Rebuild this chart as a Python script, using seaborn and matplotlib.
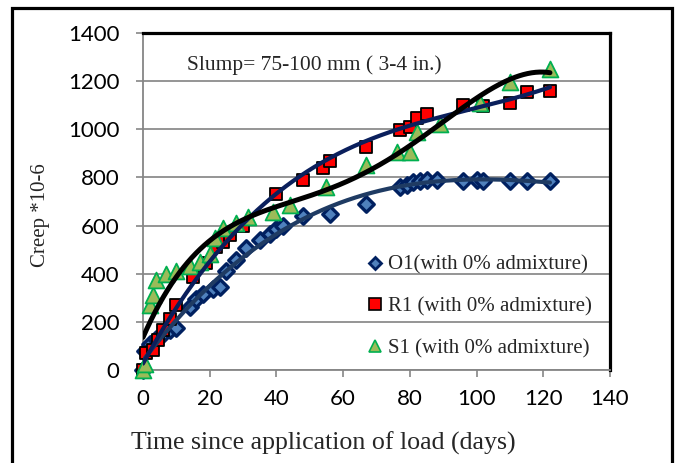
import numpy as np
import pandas as pd
import matplotlib
matplotlib.use("Agg")
import matplotlib.pyplot as plt
import seaborn as sns
from matplotlib.lines import Line2D
from matplotlib.patches import Rectangle

# ---------------- data ----------------
O1_days = [0, 0.5, 2, 4, 6, 8, 10, 14, 16, 18, 21, 23, 25, 28, 31, 35, 38, 40, 42, 48,
           56, 67, 77, 79, 81, 83, 85, 88, 96, 100, 102, 110, 115, 122]
O1_creep = [0, 80, 110, 130, 150, 165, 175, 260, 295, 315, 335, 345, 410, 455, 505, 540,
            565, 585, 600, 640, 650, 690, 760, 770, 780, 785, 790, 790, 785, 790, 785,
            785, 785, 785]

R1_days = [0, 1, 3, 4.5, 6, 8, 10, 15, 19, 22, 24, 26, 30, 40, 48, 54, 56, 67, 77, 80,
           82, 85, 96, 102, 110, 115, 122]
R1_creep = [0, 70, 85, 125, 165, 210, 270, 385, 445, 510, 530, 560, 600, 730, 790, 840,
            870, 925, 995, 1010, 1045, 1065, 1100, 1095, 1110, 1155, 1160]

S1_days = [0, 0.5, 2, 3, 4, 7, 10, 14, 17, 20, 21.5, 24, 28, 31.5, 39, 44, 55, 67, 76,
           80, 82, 89, 101, 110, 122]
S1_creep = [0, 25, 270, 310, 375, 400, 410, 430, 450, 480, 550, 590, 610, 635, 655, 685,
            760, 850, 905, 905, 990, 1020, 1110, 1195, 1250]

labels = ["O1(with 0% admixture)", "R1 (with 0% admixture)", "S1 (with 0% admixture)"]
x_ticks = list(range(0, 141, 20))
y_ticks = list(range(0, 1401, 200))
annotation = "Slump= 75-100 mm ( 3-4 in.)"
x_label = "Time since application of load (days)"
y_label = "Creep *10-6"

# ---------------- styling ----------------
sns.set_theme(style="white")
plt.rcParams["font.family"] = ["Liberation Serif", "DejaVu Serif"]

W, H = 678, 463
fig = plt.figure(figsize=(W / 100, H / 100), dpi=100)
ax = fig.add_axes([143 / W, 1 - 370 / H, (610 - 143) / W, (370 - 33) / H])

grey = "#868686"
o_fill, o_edge = "#4F81BD", "#002060"
r_fill, r_edge = "#FF0000", "#000000"
s_fill, s_edge = "#9BBB59", "#00B050"

# markers
sns.scatterplot(x=O1_days, y=O1_creep, marker="D", s=62, color=o_fill, edgecolor=o_edge,
                linewidth=2.4, ax=ax, zorder=3, clip_on=False, legend=False)
sns.scatterplot(x=R1_days, y=R1_creep, marker="s", s=78, color=r_fill, edgecolor=r_edge,
                linewidth=1.3, ax=ax, zorder=4, clip_on=False, legend=False)
sns.scatterplot(x=S1_days, y=S1_creep, marker="^", s=130, color=s_fill, edgecolor=s_edge,
                linewidth=1.3, ax=ax, zorder=5, clip_on=False, legend=False)

# polynomial trend lines fitted to the data (like spreadsheet trendlines)
def trend(xd, yd, deg):
    p = np.polynomial.Polynomial.fit(xd, yd, deg)
    xs = np.linspace(min(xd), max(xd), 400)
    return xs, p(xs)

xo, yo = trend(O1_days, O1_creep, 3)
xr, yr = trend(R1_days, R1_creep, 3)
xsx, ysx = trend(S1_days, S1_creep, 4)
sns.lineplot(x=xo, y=yo, color="#1F3B63", lw=3, ax=ax, zorder=6, sort=False)
sns.lineplot(x=xr, y=yr, color="#0A1F5C", lw=3, ax=ax, zorder=7, sort=False)
sns.lineplot(x=xsx, y=ysx, color="black", lw=3.6, ax=ax, zorder=8, sort=False)

ax.set_xlim(0, 140)
ax.set_ylim(0, 1400)
ax.set_xticks(x_ticks)
ax.set_yticks(y_ticks)
ax.set_xlabel("")
ax.set_ylabel("")

ax.grid(axis="y", color="#8c8c8c", lw=1.3)
ax.grid(axis="x", visible=False)
ax.set_axisbelow(True)

for side in ["top", "right"]:
    ax.spines[side].set_color("black")
    ax.spines[side].set_linewidth(2.3)
for side in ["left", "bottom"]:
    ax.spines[side].set_color(grey)
    ax.spines[side].set_linewidth(1.3)

ax.tick_params(axis="both", direction="out", length=5, width=1.2, color=grey,
               labelcolor="black", left=True, bottom=True)
ax.tick_params(axis="y", pad=12)
ax.tick_params(axis="x", pad=9)
for lab in ax.get_xticklabels() + ax.get_yticklabels():
    lab.set_family(["Lato", "DejaVu Sans"])
    lab.set_fontsize(16)

# annotation
fig.text(187 / W, 1 - 70 / H, annotation, fontsize=15.5, ha="left", va="baseline")

# legend
handles = [
    Line2D([], [], marker="D", ls="", ms=6.5, mfc=o_fill, mec=o_edge, mew=2),
    Line2D([], [], marker="s", ls="", ms=8, mfc=r_fill, mec=r_edge, mew=1.2),
    Line2D([], [], marker="^", ls="", ms=8.5, mfc=s_fill, mec=s_edge, mew=1.2),
]
ax.legend(handles, labels, loc="center left", bbox_to_anchor=(367 / W, 1 - 307 / H),
          bbox_transform=fig.transFigure, frameon=False, fontsize=15,
          handlelength=0.8, handletextpad=0.2, labelspacing=1.07, borderpad=0,
          borderaxespad=0)

# axis titles
fig.text(323 / W, 1 - 443 / H, x_label, fontsize=18.6, ha="center", va="center")
fig.text(40 / W, 1 - 215 / H, y_label, fontsize=15, rotation=90, ha="center", va="center")

# outer chart border
fig.patches.append(Rectangle((12 / W, -0.1), (672 - 12) / W, (1 - 8 / H) + 0.1,
                             transform=fig.transFigure, fill=False, lw=2.3,
                             ec="black", zorder=10))

fig.savefig("out.png", dpi=100)
